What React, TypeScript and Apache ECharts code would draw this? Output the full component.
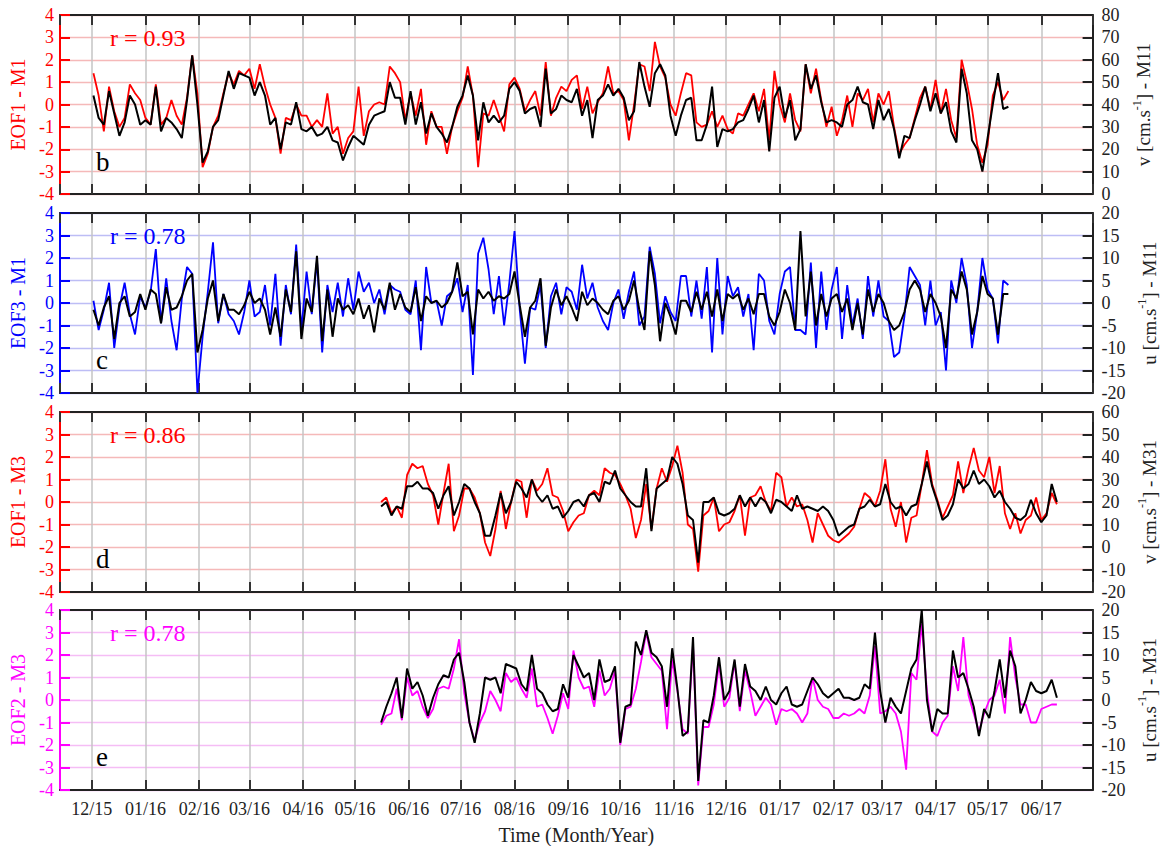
import React, { useEffect, useRef } from "react";
import * as echarts from "echarts";

const FONT = '"Liberation Serif", "Times New Roman", serif';
const DAY = 86400000;
const X_MIN = new Date(2015, 10, 12, 16, 48).getTime();
const X_MAX = new Date(2017, 5, 30, 14, 24).getTime();
const STEP_DAYS = 3;
const START_M1 = [2015, 11, 2];
const START_M3 = [2016, 4, 16];

// Panel b: EOF1 (left units) and v at M11 (cm/s)
const eof1M1 = [1.4,0.4,-1.2,0.8,-0.3,-1.0,-0.6,0.9,0.5,0.2,
-0.6,-0.9,0.9,-0.9,-0.6,0.2,-0.5,-0.9,0.3,2.2,
0.5,-2.8,-2.2,-1.0,-0.5,0.5,1.4,0.9,1.5,1.3,
1.6,0.7,1.8,0.8,0.0,-0.6,-2.2,-0.6,-0.7,0.0,
-0.5,-0.5,-1.0,-0.7,-1.0,0.5,-1.3,-1.0,-2.2,-1.5,
-1.2,0.8,-1.4,-0.3,0.0,0.1,0.0,1.7,1.4,
1.0,-0.7,0.5,-0.5,0.7,-1.8,-0.3,-1.0,-1.0,-2.2,-1.0,-0.3,0.3,1.7,0.4,-2.8,-0.4,-0.5,0.2,-0.5,-1.2,0.9,1.2,0.7,-0.3,0.2,0.6,-0.5,1.9,-0.5,0.3,0.8,0.6,1.1,1.3,-0.2,0.8,-0.4,0.1,0.5,1.7,0.5,0.6,0.2,-1.6,0.0,1.8,1.7,0.6,2.8,1.7,1.2,0.0,-0.5,0.5,1.4,1.3,-0.8,-1.0,-0.9,-0.3,-1.0,-0.5,-1.1,-1.3,-0.4,-0.5,0.0,0.5,-0.3,0.7,-1.6,1.5,
0,-0.8,0.5,-0.7,-1.2,1.8,0.5,1.6,0.2,-1.0,-0.1,-1.4,-0.7,0.4,-1.0,0.5,0.2,0.7,-0.8,0.5,0,0.6,-1.0,-2.2,-1.8,-1.5,-0.6,0.3,0.8,-0.2,1.1,-0.4,0.7,-0.7,-1.5,2.0,1.0,-0.2,-1.8,-2.6,-1.8,0.4,1.0,0.2,0.6];
const vM11 = [44,34,31,46,36,26,32,44,40,31,
33,31,48,28,34,32,29,25,42,62,
40,14,19,30,33,44,55,47,54,53,
52,44,50,44,31,34,20,32,31,41,
29,28,30,26,27,30,24,23,15,21,
26,24,22,31,35,36,37,50,43,
43,31,46,31,41,27,36,30,27,23,30,39,44,53,44,24,41,32,35,32,35,47,50,46,36,38,39,30,56,36,38,44,42,41,47,35,42,25,42,44,49,44,47,43,33,37,59,48,39,54,58,53,35,26,35,42,43,24,24,31,48,21,29,28,29,32,33,38,44,32,42,19,43,
48,34,42,24,29,58,47,53,41,32,33,32,30,40,42,48,41,40,29,42,33,38,29,16,26,25,33,40,48,37,45,36,41,28,23,56,45,24,20,10,25,40,54,38,39];

// Panel c: EOF3 and u at M11
const eof3M1 = [0.1,-1.2,-0.3,0.9,-2.0,-0.2,0.9,-0.5,-1.4,0.3,
-0.2,0.5,2.4,-0.9,1.1,-0.8,-2.1,0.2,1.6,1.3,
-4.0,-1.5,0.5,2.7,-0.9,0.4,-0.5,-0.8,-1.4,-0.4,
1.0,-0.6,-0.4,0.8,-1.0,1.3,-1.9,0.8,-0.5,2.6,
-1.2,1.4,-0.5,1.9,-2.2,0.8,-0.4,0.9,-0.6,1.1,
-0.3,1.4,0.5,0.9,0.0,0.6,-0.5,0.8,0.6,
0.5,-0.3,-0.5,1.0,-2.1,1.6,0.0,0.1,-1.0,0.3,0.5,1.1,-0.4,0.8,-3.2,2.2,2.9,1.5,-0.5,1.2,-1.0,0.9,3.2,-0.3,-2.7,-0.2,-0.3,0.8,-2.0,0.3,0.9,-0.5,0.7,0.5,-0.3,1.7,0.2,0.9,-0.2,-0.8,-1.2,0.0,0.6,-0.7,0.5,1.4,-1.0,-0.6,2.5,1.3,-0.9,0.3,-0.4,-0.8,1.2,1.2,-0.6,1.0,-0.7,1.6,-2.2,2.0,-1.4,1.2,0.3,0.7,-0.6,0.4,-2.1,1.3,
1.0,-0.8,-1.4,0.4,1.4,1.6,-1.2,-1.2,-1.4,1.8,-2.0,1.4,-1.2,0.6,1.6,-1.6,0.8,-1.0,0.2,-1.6,1.2,-0.6,1.0,-0.6,-0.8,-2.4,-2.2,-0.6,1.6,1.2,0.8,-1.0,1.0,-1.0,-0.4,-3.0,1.0,0,2.0,0.8,-2.0,-0.4,2.0,0.6,0.2,-1.8,1.0,0.8];
const uM11 = [-1.5,-5,-1,1.5,-8,0,1.5,-3,-2,2,
-1.5,3,2,-4.5,3.5,-1.5,-1,1.5,5,6.5,
-11,-6,1,5,-4,2,-1.5,-1.5,-2.5,-0.5,
2.5,0,1,-1.5,-7,-1,-7.5,3,-2,11.5,
-8,1,-2,10.5,-8.5,3,-7.5,1,-1.5,-0.5,
-2.5,1,-3.5,-0.5,-6.5,1,-1.5,4.5,-1.5,
2,-1,-2,3.5,-4,1.5,0,0.5,-1,0,2.5,9,1.5,2.5,-7,3,1,2.5,0.5,1.5,1,2,7,-0.5,-7.5,-1,0.5,5.5,-9.5,-1,3,-0.5,1.5,-1,-4,2.5,-0.5,1,0,-1.5,-2.5,0.5,1.5,-1.5,0.5,5,-1.5,-6,11.5,4,-8.5,0,-3,-7,0.5,0.5,-2,2.5,-1.5,2.5,-3,3,-4,2,1,2,-1.5,1,-2.5,2,
2,-3,-5,-2,3,0,-6,16,-3,7,-5,2,-3,1,2,-2,1,-6,0,-7,3,-2,2,0,-4,-6,-5,-2,3,5,3,-2,2,0,-3,-10,3,1,7,3,-7,-2,6,2,1,-7,2,2];

// Panel d: EOF1 and v at M31
const eof1M3 = [0.0,0.2,-0.5,-0.2,-0.7,1.2,1.7,1.5,1.6,0.8,
0.3,-1.0,0.4,1.7,-1.3,-0.6,0.6,0.6,0.2,-0.5,
-1.8,-2.4,-1.2,0.5,-1.2,0.0,1.0,0.9,-0.7,1.0,
0.5,0.8,1.5,0.3,0.2,-0.4,-1.3,-0.9,-0.6,-0.5,
0.3,0.5,0.3,1.5,1.3,1.2,0.8,0.3,-0.3,-1.6,
-0.8,0.8,-1.2,0.6,1.5,0.9,1.6,2.5,1.3,-1.0,
-1.2,-3.1,-0.6,-0.4,0.2,-1.3,-1.0,-0.9,-0.4,0.3,
-1.5,0.2,0.3,0.7,0.0,-0.4,1.3,
1.1,-0.2,0.2,-0.2,-0.1,-0.8,-1.8,-0.5,-1.0,-1.5,-1.7,-1.8,-1.6,-1.4,-1.1,-0.3,0.4,0.2,-0.2,0.5,1.9,-0.3,-1.1,0,-1.8,-0.7,-0.6,0.8,2.3,0.8,0.1,-0.7,-0.2,0.3,1.8,0.4,1.5,2.4,1.4,1.1,2.0,0.4,1.6,-0.5,-1.2,-0.5,-1.4,-0.8,-0.6,0.2,-0.8,-0.5,0.4,-0.1];
const vM31 = [18,20,14,18,17,27,27,29,26,26,
24,17,23,27,14,20,28,26,20,15,
5,5,14,24,15,20,29,26,22,30,
23,20,23,17,18,13,16,20,21,18,
23,24,20,29,28,34,26,23,20,18,
18,35,7,26,28,30,40,37,28,14,
12,-7,20,20,22,15,14,15,17,23,
18,22,18,22,20,15,21,
20,18,16,23,17,18,17,16,18,16,12,5,7,9,10,17,18,21,18,19,28,20,17,18,14,18,19,28,38,27,20,12,14,19,30,26,28,34,28,30,27,22,25,20,17,13,12,14,21,15,11,14,28,20];

// Panel e: EOF2 and u at M31
const eof2M3 = [-1.1,-0.7,-0.6,0.5,-0.9,1.0,0.2,0.4,-0.3,-0.8,
-0.4,0.5,0.6,0.5,1.4,2.7,0.3,-1.0,-1.8,-1.0,
-0.5,0.4,0.0,-0.5,1.2,0.8,1.0,0.5,0.1,1.4,
-0.3,-0.2,-0.8,-1.5,-0.7,0.3,-0.4,2.2,1.0,0.5,
0.6,-0.3,1.3,0.2,0.5,1.3,-2.0,-0.4,-0.3,0.5,
1.7,3.0,1.9,1.6,1.3,-1.3,1.8,0.4,-1.3,-1.5,
2.5,-3.8,-1.2,-1.2,-0.2,1.6,-0.3,0.1,1.7,-0.5,
1.3,0.4,-0.7,-0.3,0.1,-0.2,-1.1,
-0.4,-0.5,-0.4,-0.6,-1.0,-0.6,1.0,0,-0.3,-0.4,-0.8,-0.8,-0.6,-0.7,-0.6,-0.4,-0.6,0.2,2.4,-0.6,-0.5,-0.3,-0.6,-1.4,-3.1,1.2,0.9,3.4,0.4,-1.4,-1.6,-1.0,-0.7,1.5,0.4,2.8,0.2,-0.6,-1.4,-0.6,0,0.2,0.9,-0.6,2.8,1.0,-0.2,-0.2,-1.0,-1.0,-0.4,-0.3,-0.2,-0.2];
const uM31 = [-5,-1.5,1.5,5,-4,7,2.5,4,1,-3.5,
0.5,3.5,5.5,5,9,10.5,4,-5,-9.5,-3,
5,4.5,5,1.5,8,7.5,7,3.5,2,10,
2.5,1.5,-1,-2.5,-2,3.5,0.5,10,7.5,5,
6,0,9,4,4.5,7.5,-9.5,-1.5,-1,13,
10,15.5,10.5,9.5,7.5,-1.5,11.5,2.5,-8,-7,
14,-18,-4.5,-5,1,9.5,0,2,9,-1.5,
8,3,2,0,3,0,-1,
1.5,3,-1,-1.5,-1,2,5,3.5,1.5,0.5,1.5,2.5,0.5,0.5,0,0.5,3.5,2.5,15,2,-5,0.5,-1.5,-3,2,7,9,20,0,-7,-2,-3,-3,11,5,6,2.5,-1.5,-8,-2,-4,2,9,0.5,11,7.5,-3,0,4,2,1.5,2,4.5,0.5];

const MONTH_TICK_LABELS = ["12/15","01/16","02/16","03/16","04/16","05/16","06/16","07/16","08/16","09/16","10/16","11/16","12/16","01/17","02/17","03/17","04/17","05/17","06/17"];

const panels = [
  { top: 15, h: 179, color: "#ff0000", split: "#f5b9b9", left: "EOF1 - M1", q: "v", st: "M11", rMin: 0, rMax: 80, rInt: 10, r: "r = 0.93", letter: "b", colored: eof1M1, black: vM11, start: START_M1 },
  { top: 213, h: 180, color: "#0000ff", split: "#bdbdf5", left: "EOF3 - M1", q: "u", st: "M11", rMin: -20, rMax: 20, rInt: 5, r: "r = 0.78", letter: "c", colored: eof3M1, black: uM11, start: START_M1 },
  { top: 412, h: 180, color: "#ff0000", split: "#f5b9b9", left: "EOF1 - M3", q: "v", st: "M31", rMin: -20, rMax: 60, rInt: 10, r: "r = 0.86", letter: "d", colored: eof1M3, black: vM31, start: START_M3 },
  { top: 610, h: 180, color: "#ff00ff", split: "#f5bdf5", left: "EOF2 - M3", q: "u", st: "M31", rMin: -20, rMax: 20, rInt: 5, r: "r = 0.78", letter: "e", colored: eof2M3, black: uM31, start: START_M3 },
];

const toPairs = (start: number[], vals: number[]) =>
  vals.map((v, i) => [new Date(start[0], start[1], start[2] + STEP_DAYS * i).getTime(), v]);

const monthLabel = (val: number) => {
  const d = new Date(val);
  if (d.getDate() !== 1 || d.getHours() !== 0) return "";
  const idx = (d.getFullYear() - 2015) * 12 + d.getMonth() - 11;
  return MONTH_TICK_LABELS[idx] ?? "";
};

export default function App() {
  const ref = useRef<HTMLDivElement>(null);
  useEffect(() => {
    if (!ref.current) return;
    const chart = echarts.init(ref.current, undefined, { renderer: "svg" });
    const grid: any[] = [];
    const xAxis: any[] = [];
    const yAxis: any[] = [];
    const series: any[] = [];
    const graphic: any[] = [];
    panels.forEach((p, k) => {
      grid.push({ left: 60, width: 1032.6, top: p.top, height: p.h, outerBoundsMode: "none" });
      const isLast = k === panels.length - 1;
      xAxis.push({
        type: "time", gridIndex: k, min: X_MIN, max: X_MAX, splitNumber: 20,
        minInterval: 28 * DAY, maxInterval: 31 * DAY, position: "bottom",
        axisLine: { show: true, onZero: false, lineStyle: { color: "#222", width: 2 } },
        axisTick: { show: true, inside: true, length: 10, lineStyle: { color: "#333", width: 2 } },
        axisLabel: isLast
          ? { show: true, formatter: monthLabel, color: "#222", fontSize: 18, fontFamily: FONT, margin: 10, hideOverlap: false }
          : { show: false },
        splitLine: { show: true, lineStyle: { color: "#c4c4c4", width: 1.5 } },
        name: isLast ? "Time (Month/Year)" : "",
        nameLocation: "middle", nameGap: 35,
        nameTextStyle: { color: "#222", fontSize: 20, fontFamily: FONT },
      });
      xAxis.push({
        type: "time", gridIndex: k, min: X_MIN, max: X_MAX, splitNumber: 20,
        minInterval: 28 * DAY, maxInterval: 31 * DAY, position: "top",
        axisLine: { show: true, onZero: false, lineStyle: { color: "#222", width: 2 } },
        axisTick: { show: true, inside: true, length: 10, lineStyle: { color: "#333", width: 2 } },
        axisLabel: { show: false }, splitLine: { show: false },
      });
      yAxis.push({
        type: "value", gridIndex: k, min: -4, max: 4, interval: 1, position: "left",
        axisLine: { show: true, onZero: false, lineStyle: { color: p.color, width: 2 } },
        axisTick: { show: true, inside: true, length: 10, lineStyle: { color: p.color, width: 2 } },
        axisLabel: { color: p.color, fontSize: 18, fontFamily: FONT, margin: 6 },
        splitLine: { show: true, lineStyle: { color: p.split, width: 1.3 } },
        name: p.left, nameLocation: "middle", nameRotate: 90, nameGap: 31,
        nameTextStyle: { color: p.color, fontSize: 20, fontFamily: FONT },
      });
      yAxis.push({
        type: "value", gridIndex: k, min: p.rMin, max: p.rMax, interval: p.rInt, position: "right",
        axisLine: { show: true, onZero: false, lineStyle: { color: "#222", width: 2 } },
        axisTick: { show: true, inside: true, length: 10, lineStyle: { color: "#222", width: 2 } },
        axisLabel: { color: "#222", fontSize: 18, fontFamily: FONT, margin: 9 },
        splitLine: { show: false },
        name: `{n|${p.q} [cm.s}{s|-1}{n|] - ${p.st}}`,
        nameLocation: "middle", nameRotate: 90, nameGap: 36,
        nameTextStyle: {
          rich: {
            n: { fontSize: 19, fontFamily: FONT, color: "#222", lineHeight: 26 },
            s: { fontSize: 12, fontFamily: FONT, color: "#222", verticalAlign: "top", lineHeight: 14 },
          },
        },
      });
      series.push({
        type: "line", xAxisIndex: 2 * k, yAxisIndex: 2 * k, data: toPairs(p.start, p.colored),
        showSymbol: false, symbol: "none", z: 2,
        lineStyle: { color: p.color, width: 1.8 }, itemStyle: { color: p.color },
      });
      series.push({
        type: "line", xAxisIndex: 2 * k, yAxisIndex: 2 * k + 1, data: toPairs(p.start, p.black),
        showSymbol: false, symbol: "none", z: 3,
        lineStyle: { color: "#000", width: 2 }, itemStyle: { color: "#000" },
      });
      graphic.push({
        type: "text", left: 110, top: p.top + 11, z: 10,
        style: { text: p.r, fill: p.color, fontSize: 24, fontFamily: FONT },
      });
      graphic.push({
        type: "text", left: 96, top: p.top + 133, z: 10,
        style: { text: p.letter, fill: "#000", fontSize: 27, fontFamily: FONT },
      });
    });
    chart.setOption({
      animation: false,
      backgroundColor: "#ffffff",
      grid, xAxis, yAxis, series, graphic,
    });
    return () => chart.dispose();
  }, []);
  return (
    <div
      ref={ref}
      style={{ position: "fixed", left: 0, top: 0, width: 1162, height: 846, background: "#fff" }}
    />
  );
}
